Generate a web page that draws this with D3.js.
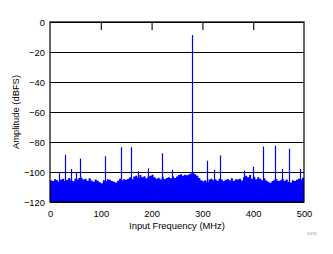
<!DOCTYPE html>
<html>
<head>
<meta charset="utf-8">
<script src="https://cdn.jsdelivr.net/npm/d3@7"></script>
<style>
  body { margin: 0; background: #fff; }
  svg { display: block; }
  text { font-family: "Liberation Sans", Arial, sans-serif; }
</style>
</head>
<body>
<svg width="333" height="254"></svg>
<script>
// noise floor, one value every 4 MHz from 0 to 500 MHz (dBFS)
const noiseStep = 4;
const noiseFloor = [
  -105.5, -106, -104.8, -105.5, -106.5, -105, -104.5, -106, -105.2, -104, -105.5, -106.2, -104.5, -105, -104, -103.8,
  -105, -104.5, -105.8, -104.2, -105.6, -106.5, -105, -105.8, -106.8, -107.5, -105.5, -106, -104.8, -105.2, -106,
  -106.5, -107, -105.8, -104.5, -105.5, -104.8, -105.2, -104.5, -103.5, -104.8,
  -103, -102.5, -104, -102, -103.5, -102.8, -104.2, -103, -102.5, -101.8,
  -103.5, -104.5, -103.8, -104.8, -103.2, -104.6, -104, -103.5, -104.2, -102.8, -104, -103,
  -102, -101.5, -102.5, -101.8, -102.2, -101.5, -100.8, -100.5,
  -101.5, -102.5, -104, -105.5, -106.2, -105.5, -106.8, -105, -104.5, -105.5,
  -104.8, -105.8, -104.5, -105, -106, -105.2, -104.6, -105.5, -104.2, -105.8, -104.8, -105, -104.5, -105.6, -103.5,
  -102.5, -103.5, -102, -104.5, -103.2, -104.8, -103.5, -104.5, -105.5, -104.2,
  -105.6, -106.5, -107.2, -106, -105.2, -104.8, -106, -105.5, -104.6, -105.8,
  -105, -106.5, -107, -105.5, -106, -105.2, -104.5, -105, -103.8, -103.5
];

// tone and spurs
const spurFreq = [18, 30, 41, 52, 60, 108, 140, 159, 174, 192, 221, 241, 280, 310, 322, 335, 381, 400, 420, 442, 457, 471, 492];
const spurLevel = [-100, -88.5, -98, -100, -91, -89.5, -83.5, -83.5, -99.5, -97.5, -87.5, -98.5, -8.7, -92.5, -98.5, -89, -99, -96.5, -83, -82.5, -98, -84.5, -98];

const xTicks = [0, 100, 200, 300, 400, 500];
const yTicks = [0, -20, -40, -60, -80, -100, -120];

const margin = { top: 22, right: 29, bottom: 52, left: 50 },
    width = 333 - margin.left - margin.right,
    height = 254 - margin.top - margin.bottom;

const svg = d3.select("svg");
const g = svg.append("g")
    .attr("transform", `translate(${margin.left}, ${margin.top})`);

const x = d3.scaleLinear().domain([0, 500]).range([0, width]);
const y = d3.scaleLinear().domain([-120, 0]).range([height, 0]);

// grid + y labels
const yAxis = g.append("g")
    .call(d3.axisLeft(y).tickValues(yTicks).tickSize(-width).tickPadding(5).tickFormat(d3.format("d")));
yAxis.select(".domain").remove();
yAxis.selectAll("line").attr("stroke", "#000").attr("stroke-width", 1.1);
yAxis.selectAll("text").attr("font-size", "9.4px").attr("fill", "#000");

// noise floor as filled step area
const noise = noiseFloor.map((v, i) => ({ f: i * noiseStep, v: v }));
const area = d3.area()
    .x(d => x(d.f))
    .y0(y(-120))
    .y1(d => y(d.v))
    .curve(d3.curveStepAfter);
g.append("path")
    .datum(noise)
    .attr("fill", "#0000ff")
    .attr("d", area);

// spurs
const spurs = spurFreq.map((f, i) => ({ f: f, v: spurLevel[i] }));
g.selectAll(".spur").data(spurs).enter().append("line")
    .attr("class", "spur")
    .attr("x1", d => Math.round(x(d.f)) + 0.5)
    .attr("x2", d => Math.round(x(d.f)) + 0.5)
    .attr("y1", y(-120))
    .attr("y2", d => y(d.v))
    .attr("stroke", "#0000ff")
    .attr("stroke-width", 1.2);

// x labels
const xAxis = g.append("g")
    .attr("transform", `translate(0, ${height})`)
    .call(d3.axisBottom(x).tickValues(xTicks).tickSize(0).tickPadding(8));
xAxis.select(".domain").remove();
xAxis.selectAll("text").attr("font-size", "9.4px").attr("fill", "#000");

// inner tick marks on the top edge
const topAxis = g.append("g")
    .call(d3.axisTop(x).tickValues([100, 200, 300, 400]).tickSize(-8).tickFormat(""));
topAxis.select(".domain").remove();
topAxis.selectAll("line").attr("stroke", "#000").attr("stroke-width", 1.1);

// frame
g.append("rect")
    .attr("x", 0).attr("y", 0)
    .attr("width", width).attr("height", height)
    .attr("fill", "none")
    .attr("stroke", "#000")
    .attr("stroke-width", 1.2);

// titles
g.append("text")
    .attr("x", width / 2)
    .attr("y", height + 27)
    .attr("text-anchor", "middle")
    .attr("font-size", "9.4px")
    .text("Input Frequency (MHz)");

g.append("text")
    .attr("transform", "rotate(-90)")
    .attr("x", -height / 2)
    .attr("y", -31)
    .attr("text-anchor", "middle")
    .attr("font-size", "9.4px")
    .text("Amplitude (dBFS)");

svg.append("text")
    .attr("x", 312)
    .attr("y", 235)
    .attr("text-anchor", "middle")
    .attr("font-size", "4px")
    .attr("fill", "#888")
    .text("D070");
</script>
</body>
</html>
